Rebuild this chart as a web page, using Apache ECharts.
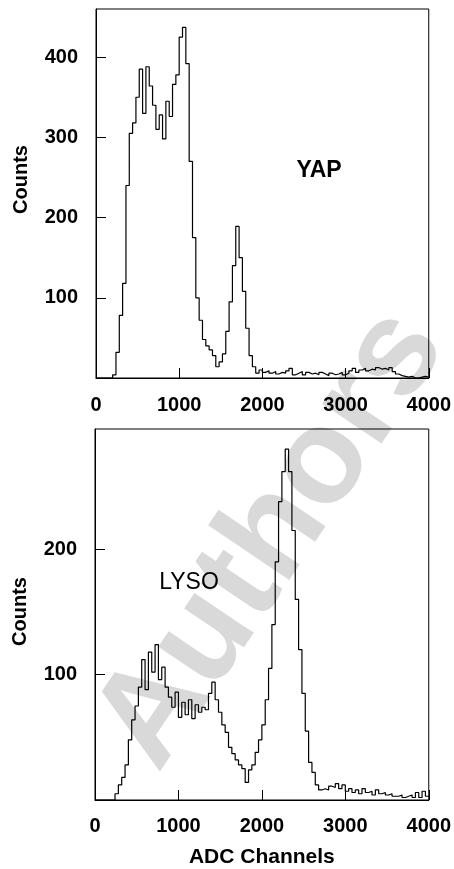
<!DOCTYPE html>
<html>
<head>
<meta charset="utf-8">
<script src="https://cdn.jsdelivr.net/npm/echarts@6/dist/echarts.min.js"></script>
<style>
  html, body { margin: 0; padding: 0; background: #fff; }
  #chart { width: 454px; height: 869px; }
</style>
</head>
<body>
<div id="chart"></div>
<script>
// histogram bins, 40 ADC channels wide, counts
const binWidth = 40;
const yapCounts = [
  0, 0, 0, 0, 0, 4, 32, 78, 118, 240,
  305, 318, 350, 385, 330, 388, 364, 340, 310, 328,
  298, 345, 326, 366, 378, 425, 437, 392, 270, 175,
  100, 72, 48, 40, 35, 28, 14, 20, 30, 58,
  95, 140, 189, 150, 108, 62, 28, 14, 6, 10,
  7, 9, 6, 8, 5, 7, 6, 9, 12, 4,
  6, 8, 4, 7, 5, 6, 4, 7, 5, 3,
  6, 4, 5, 7, 4, 6, 9, 12, 7, 10,
  12, 9, 11, 10, 13, 11, 12, 10, 13, 8,
  5, 3, 2, 1, 2, 0, 0, 1, 2, 1
];
const lysoCounts = [
  0, 0, 0, 0, 0, 0, 5, 12, 18, 28,
  48, 64, 75, 90, 112, 88, 118, 102, 124, 96,
  106, 90, 82, 74, 86, 66, 78, 68, 80, 65,
  76, 70, 74, 72, 85, 94, 80, 70, 60, 54,
  42, 37, 32, 28, 25, 14, 24, 28, 38, 48,
  60, 80, 105, 140, 190, 238, 262, 280, 262, 215,
  160, 120, 85, 55, 30, 22, 12, 8, 9, 8,
  11, 10, 13, 9, 12, 7, 9, 6, 8, 5,
  9, 6, 7, 4, 8, 5, 6, 4, 5, 3,
  3, 4, 2, 3, 4, 2, 6, 2, 7, 3
];
const xMax = 4000;
const xStep = 1000;
const yapMax = 460;
const lysoMax = 296;
const yStep = 100;

function toSteps(counts) {
  const pts = counts.map((c, i) => [i * binWidth, c]);
  pts.push([counts.length * binWidth, counts[counts.length - 1]]);
  return pts;
}

const FONT = '"Liberation Sans", Arial, sans-serif';
const chart = echarts.init(document.getElementById('chart'));

const labelStyle = { color: '#000', fontFamily: FONT, fontWeight: 'bold', fontSize: 20 };

function xAxis(gridIndex, margin, withName) {
  return {
    gridIndex: gridIndex,
    type: 'value',
    min: 0,
    max: xMax,
    interval: xStep,
    axisLine: { show: true, lineStyle: { color: '#000', width: 1 } },
    axisTick: { show: true, inside: true, length: 10, lineStyle: { color: '#000', width: 1 } },
    splitLine: { show: false },
    axisLabel: Object.assign({ margin: margin, formatter: (v) => String(v) }, labelStyle),
    name: withName ? 'ADC Channels' : '',
    nameLocation: 'middle',
    nameGap: 47,
    nameTextStyle: { color: '#000', fontFamily: FONT, fontWeight: 'bold', fontSize: 21 }
  };
}

function yAxis(gridIndex, max, namePad) {
  return {
    gridIndex: gridIndex,
    type: 'value',
    min: 0,
    max: max,
    interval: yStep,
    axisLine: { show: true, lineStyle: { color: '#000', width: 1 } },
    axisTick: { show: true, inside: true, length: 10, lineStyle: { color: '#000', width: 1 } },
    splitLine: { show: false },
    axisLabel: Object.assign({ margin: 18, showMinLabel: false, showMaxLabel: false }, labelStyle),
    name: 'Counts',
    nameLocation: 'middle',
    nameGap: 65,
    nameTextStyle: { color: '#000', fontFamily: FONT, fontWeight: 'bold', fontSize: 20, padding: namePad }
  };
}

const option = {
  backgroundColor: '#fff',
  animation: false,
  grid: [
    { left: 96, top: 9, width: 339, height: 369, show: true, borderColor: '#000', borderWidth: 1 },
    { left: 95, top: 429, width: 339, height: 371, show: true, borderColor: '#000', borderWidth: 1 }
  ],
  xAxis: [xAxis(0, 17, false), xAxis(1, 16, true)],
  yAxis: [yAxis(0, yapMax, [0, 0, 0, 28]), yAxis(1, lysoMax, [0, 0, 0, 6])],
  graphic: {
    elements: [
      {
        type: 'text',
        x: 272, y: 539,
        rotation: 0.977,
        z: -5,
        silent: true,
        style: {
          text: 'Authors',
          font: 'bold 135px ' + FONT,
          fill: '#d9d9d9',
          align: 'center', verticalAlign: 'middle',
          textAlign: 'center', textVerticalAlign: 'middle'
        }
      },
      {
        type: 'text',
        x: 319, y: 171,
        z: 10,
        style: {
          text: 'YAP',
          font: 'bold 23px ' + FONT,
          fill: '#000',
          align: 'center', verticalAlign: 'middle',
          textAlign: 'center', textVerticalAlign: 'middle'
        }
      },
      {
        type: 'text',
        x: 189, y: 583,
        z: 10,
        style: {
          text: 'LYSO',
          font: '23px ' + FONT,
          fill: '#000',
          align: 'center', verticalAlign: 'middle',
          textAlign: 'center', textVerticalAlign: 'middle'
        }
      }
    ]
  },
  series: [
    {
      name: 'YAP',
      type: 'line',
      xAxisIndex: 0,
      yAxisIndex: 0,
      step: 'end',
      showSymbol: false,
      data: toSteps(yapCounts),
      lineStyle: { color: '#000', width: 1.2 }
    },
    {
      name: 'LYSO',
      type: 'line',
      xAxisIndex: 1,
      yAxisIndex: 1,
      step: 'end',
      showSymbol: false,
      data: toSteps(lysoCounts),
      lineStyle: { color: '#000', width: 1.2 }
    }
  ]
};

chart.setOption(option);
</script>
</body>
</html>
